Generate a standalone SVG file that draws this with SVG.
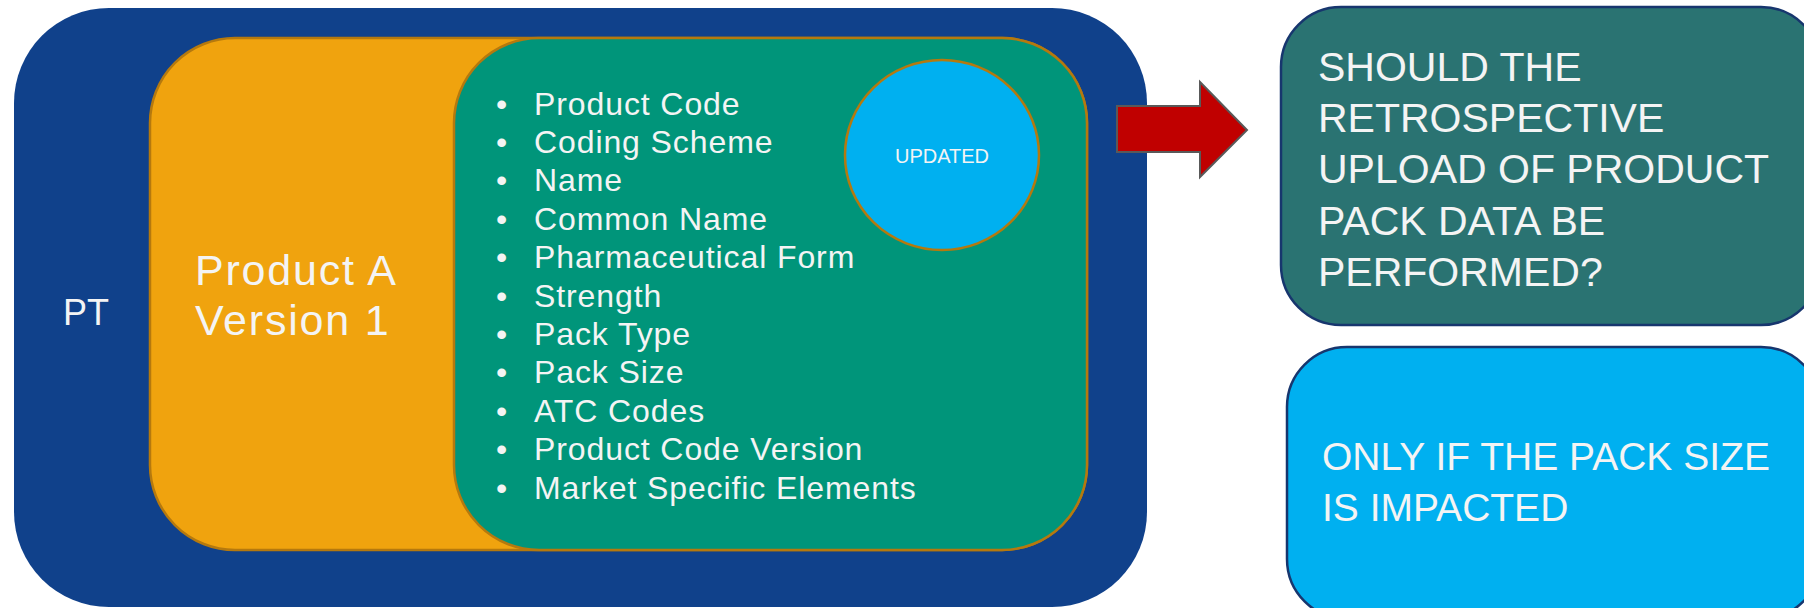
<svg xmlns="http://www.w3.org/2000/svg" width="1804" height="608" viewBox="0 0 1804 608">
<style>
.t{font-family:"Liberation Sans",Arial,sans-serif;fill:#F4F4F4;}
.pt{font-size:36px;}
.pa{font-size:43px;letter-spacing:1.8px;}
.bl{font-size:32px;letter-spacing:0.9px;}
.bu{font-size:32px;}
.up{font-size:20px;}
.q{font-size:41px;}
.a{font-size:39px;}
</style>
<rect x="0" y="0" width="1804" height="608" fill="#FFFFFF"/>
<g id="pt">
<rect x="14" y="8" width="1133" height="599" rx="95" ry="95" fill="#10418B"/>
<text class="t pt" x="63" y="325">PT</text>
</g>
<g id="product-a">
<rect x="150" y="38" width="937" height="512" rx="85" ry="85" fill="#F0A30E" stroke="#B5790E" stroke-width="2.5"/>
<text class="t pa" x="195" y="285">Product A</text>
<text class="t pa" x="195" y="335">Version 1</text>
</g>
<g id="pack-data">
<rect x="454" y="38" width="633" height="512" rx="85" ry="85" fill="#00957A" stroke="#B5790E" stroke-width="2.5"/>
<g class="t bu" text-anchor="middle">
<text x="501.5" y="114.6">•</text>
<text x="501.5" y="153">•</text>
<text x="501.5" y="191.4">•</text>
<text x="501.5" y="229.8">•</text>
<text x="501.5" y="268.2">•</text>
<text x="501.5" y="306.6">•</text>
<text x="501.5" y="345">•</text>
<text x="501.5" y="383.4">•</text>
<text x="501.5" y="421.8">•</text>
<text x="501.5" y="460.2">•</text>
<text x="501.5" y="498.6">•</text>
</g>
<g class="t bl">
<text x="534" y="114.6">Product Code</text>
<text x="534" y="153">Coding Scheme</text>
<text x="534" y="191.4">Name</text>
<text x="534" y="229.8">Common Name</text>
<text x="534" y="268.2">Pharmaceutical Form</text>
<text x="534" y="306.6">Strength</text>
<text x="534" y="345">Pack Type</text>
<text x="534" y="383.4">Pack Size</text>
<text x="534" y="421.8">ATC Codes</text>
<text x="534" y="460.2">Product Code Version</text>
<text x="534" y="498.6">Market Specific Elements</text>
</g>
</g>
<g id="updated">
<ellipse cx="942" cy="155" rx="97" ry="95" fill="#00B0F0" stroke="#B5790E" stroke-width="2.5"/>
<text class="t up" x="942" y="163" text-anchor="middle">UPDATED</text>
</g>
<g id="connectors">
<polygon points="1117,106 1200,106 1200,82 1247,130 1200,177 1200,152 1117,152" fill="#C00000" stroke="#595959" stroke-width="2"/>
</g>
<g id="question">
<rect x="1281" y="7" width="540" height="318" rx="60" ry="60" fill="#2A7372" stroke="#17366E" stroke-width="2.5"/>
<text class="t q" x="1318" y="80.6">SHOULD THE</text>
<text class="t q" x="1318" y="131.8">RETROSPECTIVE</text>
<text class="t q" x="1318" y="183">UPLOAD OF PRODUCT</text>
<text class="t q" x="1318" y="234.5">PACK DATA BE</text>
<text class="t q" x="1318" y="285.7">PERFORMED?</text>
</g>
<g id="answer">
<rect x="1287" y="347" width="534" height="272" rx="60" ry="60" fill="#00B0F0" stroke="#17366E" stroke-width="2.5"/>
<text class="t a" x="1322" y="470">ONLY IF THE PACK SIZE</text>
<text class="t a" x="1322" y="520.5">IS IMPACTED</text>
</g>
</svg>
